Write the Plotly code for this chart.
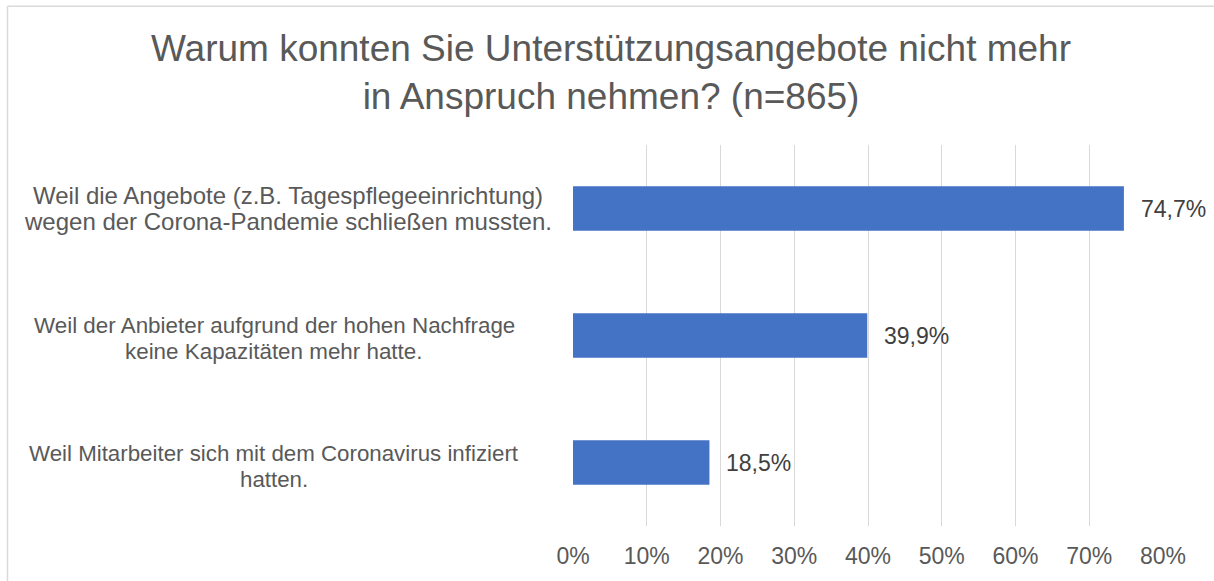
import plotly.graph_objects as go

# Survey answers and shares (percent)
categories = [
    "Weil die Angebote (z.B. Tagespflegeeinrichtung)<br>wegen der Corona-Pandemie schließen mussten.",
    "Weil der Anbieter aufgrund der hohen Nachfrage<br>keine Kapazitäten mehr hatte.",
    "Weil Mitarbeiter sich mit dem Coronavirus infiziert<br>hatten.",
]
values = [74.7, 39.9, 18.5]
tick_values = [0, 10, 20, 30, 40, 50, 60, 70, 80]
tick_labels = ["0%", "10%", "20%", "30%", "40%", "50%", "60%", "70%", "80%"]

title_text = "Warum konnten Sie Unterstützungsangebote nicht mehr<br>in Anspruch nehmen? (n=865)"

FONT = "Liberation Sans, Arial, sans-serif"
W, H = 1214, 581
M_L, M_R, M_T, M_B = 573, 51, 145, 53
plot_w = W - M_L - M_R
plot_h = H - M_T - M_B


def px_to_paper_x(px):
    return (px - M_L) / plot_w


def px_to_paper_y(py):
    return 1 - (py - M_T) / plot_h


y_idx = list(range(len(categories)))

fig = go.Figure()
fig.add_trace(go.Bar(
    x=values,
    y=y_idx,
    orientation="h",
    width=0.35,
    marker=dict(color="#4472C4", line=dict(width=0)),
    hoverinfo="skip",
))

annotations = []
# Category labels: each line placed separately for tighter line spacing
label_centers = [288, 274, 274]
label_sizes = [24, 22.4, 22.3]
label_offsets = [0, -3, -4]
LINE_GAP = 26
for i, (cat, cx, fs, off) in enumerate(zip(categories, label_centers, label_sizes, label_offsets)):
    lines = cat.split("<br>")
    n = len(lines)
    for k, line in enumerate(lines):
        annotations.append(dict(
            x=px_to_paper_x(cx), xref="paper", xanchor="center",
            y=i, yref="y", yanchor="middle",
            yshift=((n - 1) / 2 - k) * LINE_GAP + off,
            text=line, showarrow=False, align="center",
            font=dict(family=FONT, size=fs, color="#595959"),
        ))

# Value labels after the bar ends
for i, v in enumerate(values):
    annotations.append(dict(
        x=v, xref="x", xanchor="left", xshift=15,
        y=i, yref="y", yanchor="middle",
        text=f"{v:.1f}%".replace(".", ","), showarrow=False,
        font=dict(family=FONT, size=23, color="#404040"),
    ))

# Title
annotations.append(dict(
    x=px_to_paper_x(611), xref="paper", xanchor="center",
    y=px_to_paper_y(72), yref="paper", yanchor="middle",
    text=title_text, showarrow=False, align="center",
    font=dict(family=FONT, size=37, color="#595959"),
))

fig.update_layout(
    width=W, height=H,
    margin=dict(l=M_L, r=M_R, t=M_T, b=M_B, pad=0),
    paper_bgcolor="white", plot_bgcolor="white",
    showlegend=False,
    annotations=annotations,
    xaxis=dict(
        range=[0, 80], tickvals=tick_values, ticktext=tick_labels,
        showgrid=True, gridcolor="#d9d9d9", gridwidth=1,
        zeroline=False, showline=False,
        ticks="outside", ticklen=9, tickcolor="rgba(0,0,0,0)",
        tickfont=dict(family=FONT, size=23, color="#595959"),
        fixedrange=True,
    ),
    yaxis=dict(
        range=[len(categories) - 0.5, -0.5],
        showticklabels=False, showgrid=False, zeroline=False, showline=False,
        fixedrange=True,
    ),
    shapes=[
        # chart frame (left and top edges)
        dict(type="line", xref="paper", yref="paper",
             x0=px_to_paper_x(7.5), x1=px_to_paper_x(7.5),
             y0=px_to_paper_y(5.5), y1=px_to_paper_y(H + 5),
             line=dict(color="#d9d9d9", width=1.5)),
        dict(type="line", xref="paper", yref="paper",
             x0=px_to_paper_x(7.5), x1=px_to_paper_x(W + 5),
             y0=px_to_paper_y(5.5), y1=px_to_paper_y(5.5),
             line=dict(color="#d9d9d9", width=1.5)),
    ],
)

fig.write_html("out.html", config={"displayModeBar": False})
